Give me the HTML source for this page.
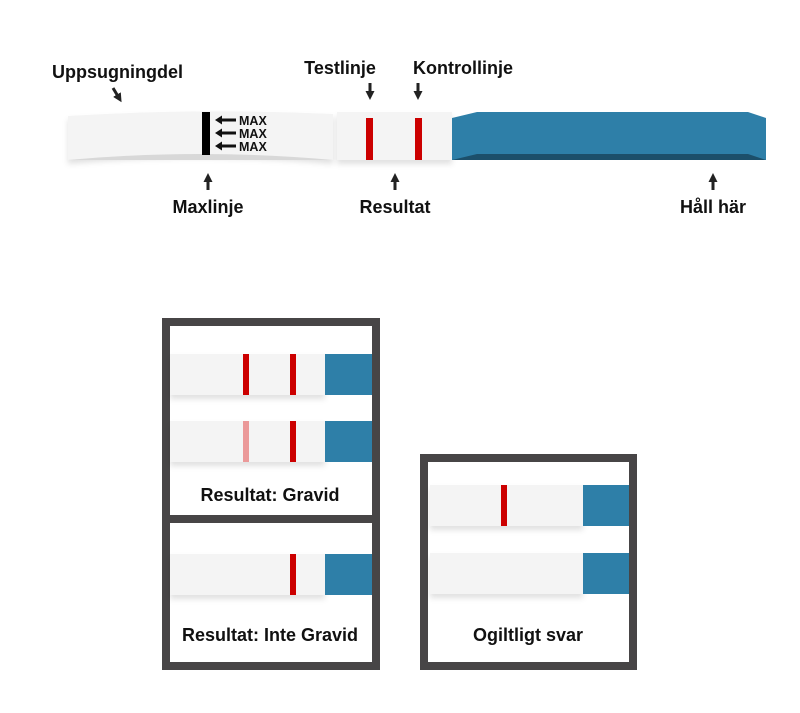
<!DOCTYPE html>
<html><head><meta charset="utf-8"><style>
html,body{margin:0;padding:0;background:#fff;}
svg{display:block}
text{font-family:"Liberation Sans Narrow","Liberation Sans",sans-serif;font-weight:bold;fill:#111;}
</style></head><body>
<svg width="800" height="713" viewBox="0 0 800 713" xmlns="http://www.w3.org/2000/svg">
<defs>
<marker id="ah" markerWidth="9" markerHeight="9" refX="4" refY="4.5" orient="auto" markerUnits="userSpaceOnUse"><path d="M0,0 L9,4.5 L0,9 z" fill="#222"/></marker>
<filter id="sh" x="-5%" y="-20%" width="110%" height="160%"><feDropShadow dx="0" dy="4" stdDeviation="3" flood-color="#000" flood-opacity="0.12"/></filter>
</defs>
<!-- top strip -->
<g filter="url(#sh)">
<path d="M68,116 Q200,108 333,114 L333,160 Q200,148 68,160 Z" fill="#f4f4f4"/>
<rect x="337" y="112" width="115" height="48" fill="#f4f4f4"/>
</g>
<path d="M68,160 Q200,148 333,160 Z" fill="#d8d8d8"/>
<rect x="202" y="112" width="8" height="43" fill="#000"/>
<rect x="366" y="118" width="7" height="42" fill="#cc0000"/>
<rect x="415" y="118" width="7" height="42" fill="#cc0000"/>
<path d="M452,118 L477,112 L748,112 L766,118 L766,160 L452,160 Z" fill="#2e7fa8"/>
<path d="M452,160 L477,154 L748,154 L766,160 Z" fill="#1c4f6a"/>
<!-- MAX arrows -->
<g fill="#111">
<path d="M215,120 l7,-4.5 v3 h14 v3 h-14 v3 z"/>
<path d="M215,133 l7,-4.5 v3 h14 v3 h-14 v3 z"/>
<path d="M215,146 l7,-4.5 v3 h14 v3 h-14 v3 z"/>
</g>
<text x="239" y="125" style="font-family:'Liberation Sans',sans-serif;font-weight:900" font-size="12.5">MAX</text>
<text x="239" y="138" style="font-family:'Liberation Sans',sans-serif;font-weight:900" font-size="12.5">MAX</text>
<text x="239" y="151" style="font-family:'Liberation Sans',sans-serif;font-weight:900" font-size="12.5">MAX</text>
<!-- labels -->
<text x="52" y="78" font-size="18">Uppsugningdel</text>
<line x1="113" y1="88" x2="119" y2="98" stroke="#222" stroke-width="3" marker-end="url(#ah)"/>
<text x="340" y="74" font-size="18" text-anchor="middle">Testlinje</text>
<line x1="370" y1="83" x2="370" y2="95" stroke="#222" stroke-width="3" marker-end="url(#ah)"/>
<text x="463" y="74" font-size="18" text-anchor="middle">Kontrollinje</text>
<line x1="418" y1="83" x2="418" y2="95" stroke="#222" stroke-width="3" marker-end="url(#ah)"/>
<line x1="208" y1="190" x2="208" y2="178" stroke="#222" stroke-width="3" marker-end="url(#ah)"/>
<text x="208" y="213" font-size="18" text-anchor="middle">Maxlinje</text>
<line x1="395" y1="190" x2="395" y2="178" stroke="#222" stroke-width="3" marker-end="url(#ah)"/>
<text x="395" y="213" font-size="18" text-anchor="middle">Resultat</text>
<line x1="713" y1="190" x2="713" y2="178" stroke="#222" stroke-width="3" marker-end="url(#ah)"/>
<text x="713" y="213" font-size="18" text-anchor="middle">Håll här</text>
<!-- left box -->
<rect x="166" y="322" width="210" height="344" fill="#fff" stroke="#474546" stroke-width="8"/>
<rect x="166" y="515" width="210" height="8" fill="#474546"/>
<g filter="url(#sh)">
<rect x="170" y="354" width="155" height="41" fill="#f4f4f4"/>
<rect x="170" y="421" width="155" height="41" fill="#f4f4f4"/>
<rect x="170" y="554" width="155" height="41" fill="#f4f4f4"/>
</g>
<rect x="325" y="354" width="47" height="41" fill="#2e7fa8"/>
<rect x="325" y="421" width="47" height="41" fill="#2e7fa8"/>
<rect x="325" y="554" width="47" height="41" fill="#2e7fa8"/>
<rect x="243" y="354" width="6" height="41" fill="#cc0000"/>
<rect x="290" y="354" width="6" height="41" fill="#cc0000"/>
<rect x="243" y="421" width="6" height="41" fill="#eb9999"/>
<rect x="290" y="421" width="6" height="41" fill="#cc0000"/>
<rect x="290" y="554" width="6" height="41" fill="#cc0000"/>
<text x="270" y="501" font-size="18" text-anchor="middle">Resultat: Gravid</text>
<text x="270" y="641" font-size="18" text-anchor="middle">Resultat: Inte Gravid</text>
<!-- right box -->
<rect x="424" y="458" width="209" height="208" fill="#fff" stroke="#474546" stroke-width="8"/>
<g filter="url(#sh)">
<rect x="430" y="485" width="153" height="41" fill="#f4f4f4"/>
<rect x="430" y="553" width="153" height="41" fill="#f4f4f4"/>
</g>
<rect x="583" y="485" width="46" height="41" fill="#2e7fa8"/>
<rect x="583" y="553" width="46" height="41" fill="#2e7fa8"/>
<rect x="501" y="485" width="6" height="41" fill="#cc0000"/>
<text x="528" y="641" font-size="18" text-anchor="middle">Ogiltligt svar</text>
</svg>
</body></html>
